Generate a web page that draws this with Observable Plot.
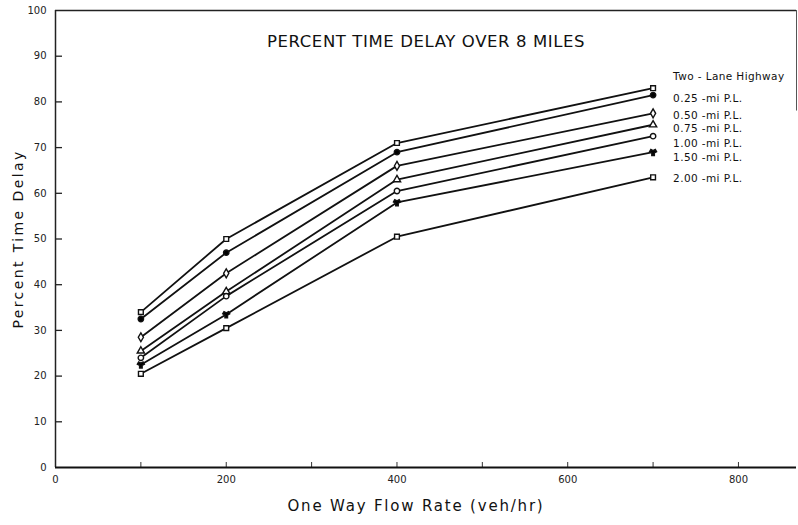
<!DOCTYPE html>
<html>
<head>
<meta charset="utf-8">
<script src="https://cdn.jsdelivr.net/npm/d3@7"></script>
<script src="https://cdn.jsdelivr.net/npm/@observablehq/plot@0.6"></script>
<style>
  html, body { margin: 0; padding: 0; background: #ffffff; }
  #chart svg { display: block; }
</style>
</head>
<body>
<div id="chart"></div>
<script>
const title = "PERCENT TIME DELAY OVER 8 MILES";
const xLabel = "One Way Flow Rate (veh/hr)";
const yLabel = "Percent Time Delay";
const flows = [100, 200, 400, 700];
const seriesNames = ["Two - Lane Highway", "0.25 -mi P.L.", "0.50 -mi P.L.", "0.75 -mi P.L.", "1.00 -mi P.L.", "1.50 -mi P.L.", "2.00 -mi P.L."];
const twoLane = [34, 50, 71, 83];
const pl025 = [32.5, 47, 69, 81.5];
const pl050 = [28.5, 42.5, 66, 77.5];
const pl075 = [25.5, 38.5, 63, 75];
const pl100 = [24, 37.5, 60.5, 72.5];
const pl150 = [22.5, 33.5, 58, 69];
const pl200 = [20.5, 30.5, 50.5, 63.5];
const yTicks = [0, 10, 20, 30, 40, 50, 60, 70, 80, 90, 100];
const xTicks = [0, 100, 200, 300, 400, 500, 600, 700, 800];
const xTickLabels = [0, 200, 400, 600, 800];

const allValues = [twoLane, pl025, pl050, pl075, pl100, pl150, pl200];
const rows = [];
allValues.forEach((vals, i) => vals.forEach((v, j) => rows.push({series: seriesNames[i], idx: i, x: flows[j], y: v})));
const lastPts = rows.filter(d => d.x === flows[flows.length - 1]);

const symbols = ["square", "circle", "diamond", "triangle", "circle", "wye", "square"];
const fills = ["white", "black", "white", "white", "white", "black", "white"];
const labelDy = [-12, 4, 2, 4, 7, 5, 1];
const font = "'DejaVu Sans', sans-serif";
const xMax = 868;

const W = 798, H = 525, mL = 55, mR = 2, mT = 10, mB = 58;
const innerW = W - mL - mR, innerH = H - mT - mB;
const tickLen = 7;

const marks = [
  Plot.ruleY([100], {stroke: "#222", strokeWidth: 1.5}),
  Plot.ruleX([xMax], {y1: 78, y2: 100, stroke: "#555", strokeWidth: 1}),
  // inward tick marks
  Plot.ruleY(yTicks.filter(d => d > 0 && d < 100), {insetRight: innerW - tickLen, stroke: "#222", strokeWidth: 1.3}),
  Plot.ruleX(xTicks.filter(d => d > 0), {insetTop: innerH - 5, stroke: "#333", strokeWidth: 1}),
  Plot.axisY({ticks: yTicks, tickSize: 0, tickPadding: 9, fontSize: 10, label: null}),
  Plot.axisX({ticks: xTickLabels, tickSize: 0, tickPadding: 8, fontSize: 10, label: null}),
  Plot.ruleX([0], {stroke: "#222", strokeWidth: 1.5}),
  Plot.ruleY([0], {stroke: "#111", strokeWidth: 2.2}),
  Plot.line(rows, {x: "x", y: "y", z: "series", stroke: "#111", strokeWidth: 1.8}),
  ...allValues.map((vals, i) => Plot.dot(rows.filter(d => d.idx === i), {
    x: "x", y: "y", symbol: () => symbols[i], r: 2.7, fill: fills[i], stroke: "#111", strokeWidth: 1.4
  })),
  ...lastPts.map(d => Plot.text([d], {x: "x", y: "y", text: "series", textAnchor: "start",
    dx: 20, dy: labelDy[d.idx], fontSize: 10.5, fill: "#111", fontWeight: "normal"})),
  Plot.text([title], {frameAnchor: "top", dy: 25, fontSize: 16.5, fill: "#111"}),
  Plot.text([xLabel], {frameAnchor: "bottom", dx: -10, dy: 43, fontSize: 15, fill: "#111"}),
  Plot.text([yLabel], {frameAnchor: "left", textAnchor: "middle", dx: -37, rotate: -90, fontSize: 14, fill: "#111"})
];

const chart = Plot.plot({
  width: W,
  height: H,
  marginLeft: mL,
  marginRight: mR,
  marginTop: mT,
  marginBottom: mB,
  style: {fontFamily: font, background: "white", color: "#222"},
  x: {domain: [0, xMax]},
  y: {domain: [0, 100]},
  marks
});
document.getElementById("chart").appendChild(chart);

// widen letter spacing of the typewriter-like labels
d3.select(chart).selectAll("text").each(function() {
  const t = this.textContent;
  if (t === xLabel) this.setAttribute("letter-spacing", "1.8");
  else if (t === yLabel) this.setAttribute("letter-spacing", "2.4");
  else if (t === title) this.setAttribute("letter-spacing", "0.6");
  else if (seriesNames.includes(t)) this.setAttribute("letter-spacing", "0.4");
});
</script>
</body>
</html>
